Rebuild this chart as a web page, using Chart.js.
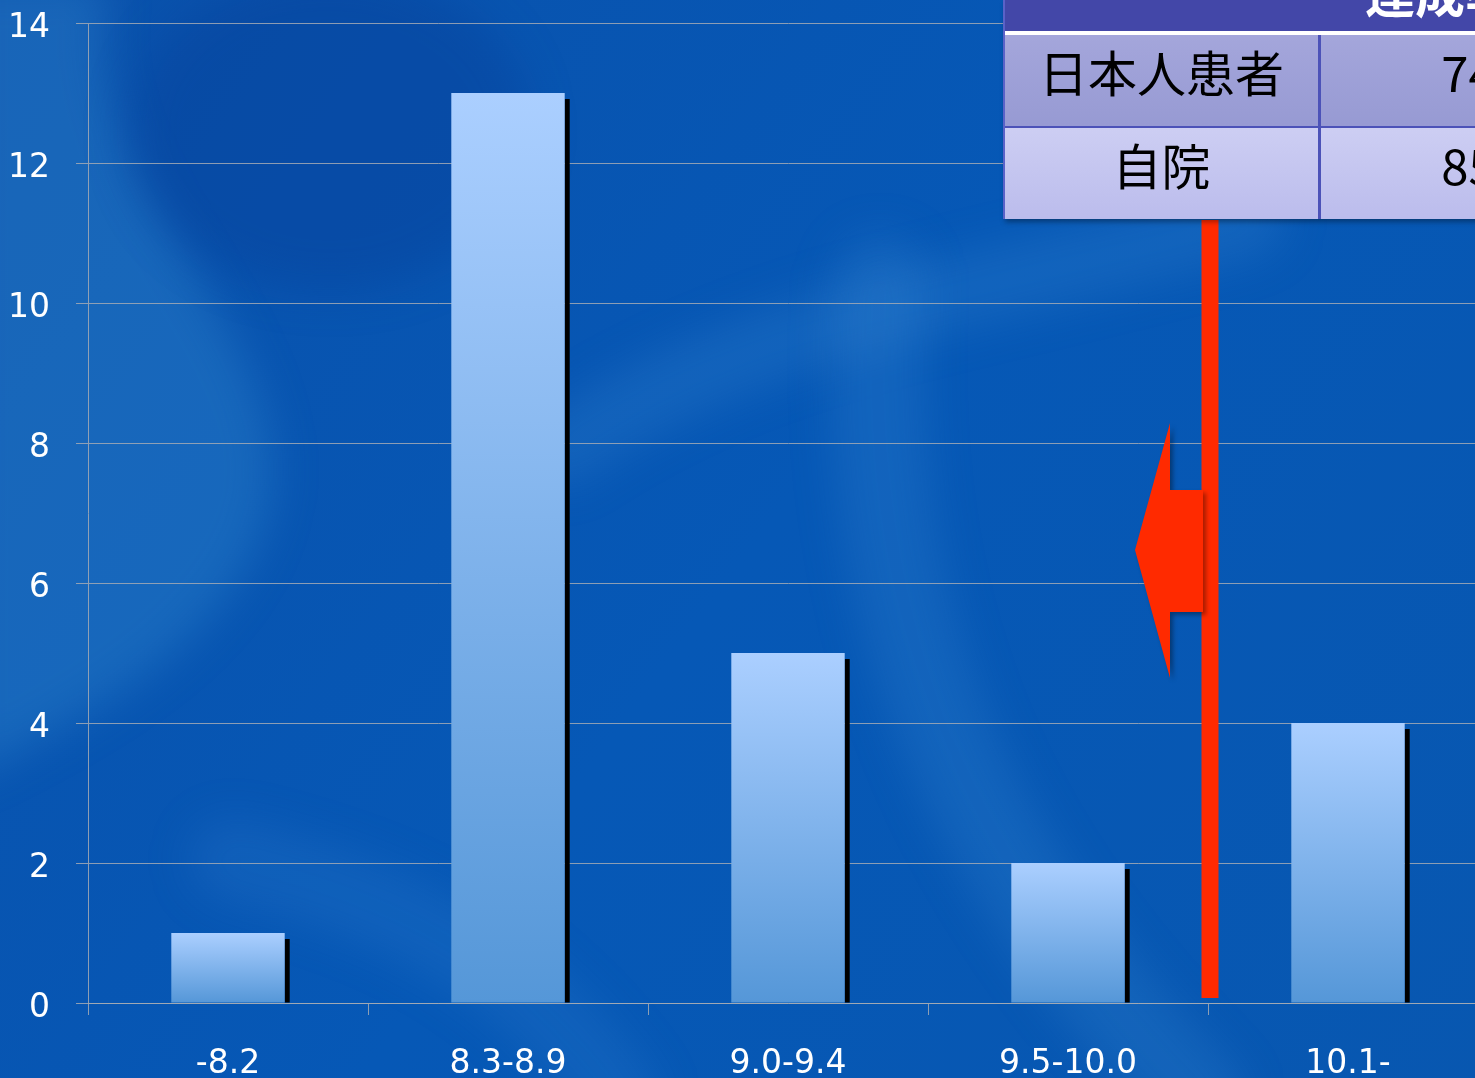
<!DOCTYPE html>
<html>
<head>
<meta charset="utf-8">
<script src="https://cdn.jsdelivr.net/npm/chart.js@4.4.1/dist/chart.umd.min.js"></script>
<style>
html, body { margin: 0; padding: 0; width: 1475px; height: 1078px; overflow: hidden; background: #0757b4; }
#wrap { position: relative; width: 1475px; height: 1078px; overflow: hidden; }
#chart { position: absolute; left: 0; top: 0; }
.tbl { position: absolute; left: 1003px; top: 0; width: 700px; font-family: "Noto Sans CJK JP", sans-serif;
       border-left: 2px solid #5a62c8; box-shadow: 2px 3px 5px rgba(0,0,0,0.35); }
.head { position: relative; height: 31px; background: #4347a8; border-bottom: 4px solid #fff; overflow: hidden; }
.head span { position: absolute; left: 360px; top: -34px; font-size: 50px; line-height: 50px; font-weight: 700; color: #fff; white-space: nowrap; }
.row { display: flex; height: 91px; }
.row.r1 { background: linear-gradient(#a4a6db, #979ad3); border-bottom: 2px solid #4c52b8; }
.row.r2 { height: 91px; background: linear-gradient(#cdcef3, #bbbcec); }
.cell { display: flex; align-items: center; justify-content: center; font-size: 49px; line-height: 1; color: #000; box-sizing: border-box; padding-bottom: 20px; }
.c1 { width: 316px; border-right: 3px solid #4c52b8; }
.c2 { width: 340px; }
</style>
</head>
<body>
<div id="wrap">
  <canvas id="chart" width="1500" height="1110"></canvas>
  <div class="tbl">
    <div class="head"><span>達成率</span></div>
    <div class="row r1"><div class="cell c1">日本人患者</div><div class="cell c2">74%</div></div>
    <div class="row r2"><div class="cell c1">自院</div><div class="cell c2">85%</div></div>
  </div>
</div>
<script>
// HbA1c ranges and patient counts
const categories = ['-8.2', '8.3-8.9', '9.0-9.4', '9.5-10.0', '10.1-'];
const patients = [1, 13, 5, 2, 4];
const yTicks = [0, 2, 4, 6, 8, 10, 12, 14];

const gridGray = 'rgba(165,170,180,0.85)';
const tickFont = { family: 'DejaVu Sans', size: 33 };

// blue backdrop with soft swirls
const backdrop = {
    id: 'backdrop',
    beforeDraw(chart) {
        const { ctx, width, height } = chart;
        ctx.save();
        const g = ctx.createLinearGradient(0, 0, width, height);
        g.addColorStop(0, '#0a51ab');
        g.addColorStop(0.5, '#0658b6');
        g.addColorStop(1, '#0857b0');
        ctx.fillStyle = g;
        ctx.fillRect(0, 0, width, height);

        ctx.filter = 'blur(22px)';
        ctx.lineCap = 'round';
        // left crescent
        ctx.fillStyle = 'rgba(60,150,215,0.3)';
        ctx.beginPath();
        ctx.moveTo(-40, -20);
        ctx.lineTo(110, -20);
        ctx.bezierCurveTo(60, 180, 300, 330, 270, 500);
        ctx.bezierCurveTo(240, 640, 80, 720, -40, 780);
        ctx.closePath();
        ctx.fill();
        // darker pocket inside the crescent
        ctx.fillStyle = 'rgba(5,60,150,0.35)';
        ctx.beginPath();
        ctx.ellipse(330, 130, 200, 160, 0, 0, Math.PI * 2);
        ctx.fill();
        // sweeping band across the middle
        ctx.strokeStyle = 'rgba(70,150,220,0.2)';
        ctx.lineWidth = 70;
        ctx.beginPath();
        ctx.moveTo(560, 450);
        ctx.bezierCurveTo(750, 320, 950, 300, 1250, 220);
        ctx.stroke();
        // large arc down the right side
        ctx.lineWidth = 90;
        ctx.strokeStyle = 'rgba(70,150,220,0.2)';
        ctx.beginPath();
        ctx.moveTo(880, 280);
        ctx.bezierCurveTo(860, 600, 950, 850, 1200, 1100);
        ctx.stroke();
        // lower left diagonal band
        ctx.lineWidth = 80;
        ctx.strokeStyle = 'rgba(60,140,215,0.18)';
        ctx.beginPath();
        ctx.moveTo(230, 860);
        ctx.bezierCurveTo(400, 900, 520, 960, 620, 1100);
        ctx.stroke();
        ctx.restore();
    }
};

// black drop shadow on the right of each bar
const barShadow = {
    id: 'barShadow',
    beforeDatasetsDraw(chart) {
        const ctx = chart.ctx;
        ctx.save();
        ctx.fillStyle = '#000';
        chart.getDatasetMeta(0).data.forEach(bar => {
            const { x, y, base, width } = bar.getProps(['x', 'y', 'base', 'width'], true);
            ctx.fillRect(x + width / 2, y + 6, 5, base - y - 6);
        });
        ctx.restore();
    }
};

// red cut-off line with arrow pointing left
const cutoffMarker = {
    id: 'cutoffMarker',
    afterDatasetsDraw(chart) {
        const { ctx, scales } = chart;
        const xb = scales.x.getPixelForValue(3.5) + 2;
        const top = 220, bottom = scales.y.getPixelForValue(0) - 5;
        ctx.save();
        ctx.fillStyle = '#ff2a00';
        ctx.fillRect(xb - 8.5, top, 17, bottom - top);

        const tipY = 550;
        ctx.shadowColor = 'rgba(0,0,0,0.35)';
        ctx.shadowOffsetX = 3;
        ctx.shadowOffsetY = 3;
        ctx.shadowBlur = 4;
        ctx.beginPath();
        ctx.moveTo(xb - 75, tipY);
        ctx.lineTo(xb - 40, 423);
        ctx.lineTo(xb - 40, 490);
        ctx.lineTo(xb - 7, 490);
        ctx.lineTo(xb - 7, 612);
        ctx.lineTo(xb - 40, 612);
        ctx.lineTo(xb - 40, 678);
        ctx.closePath();
        ctx.fill();
        ctx.restore();
    }
};

function barFill(c) {
    const chart = c.chart;
    if (!chart.chartArea) return '#86b4ee';
    const y = chart.scales.y;
    const top = y.getPixelForValue(c.raw);
    const base = y.getPixelForValue(0);
    const g = chart.ctx.createLinearGradient(0, top, 0, base);
    g.addColorStop(0, '#abcfff');
    g.addColorStop(1, '#5597d8');
    return g;
}

new Chart(document.getElementById('chart'), {
    type: 'bar',
    data: {
        labels: categories,
        datasets: [{
            data: patients,
            backgroundColor: barFill,
            borderWidth: 0,
            categoryPercentage: 1,
            barPercentage: 0.405
        }]
    },
    options: {
        responsive: false,
        animation: false,
        devicePixelRatio: 1,
        layout: { padding: { top: 23, right: 12, left: 0, bottom: 0 } },
        plugins: { legend: { display: false }, tooltip: { enabled: false } },
        scales: {
            x: {
                grid: { drawOnChartArea: false, drawTicks: true, tickLength: 12, color: gridGray, offset: true },
                border: { display: true, color: gridGray, width: 1 },
                ticks: { color: '#fff', font: tickFont, padding: 30, maxRotation: 0 },
                afterFit: s => { s.height = 107; s.paddingLeft = 0; s.paddingRight = 0; }
            },
            y: {
                min: 0,
                max: 14,
                afterBuildTicks: s => { s.ticks = yTicks.map(v => ({ value: v })); },
                grid: { color: gridGray, lineWidth: 1, tickLength: 12 },
                border: { display: true, color: gridGray, width: 1 },
                ticks: { color: '#fff', font: tickFont, padding: 26, labelOffset: 5 },
                afterFit: s => { s.width = 88; s.paddingTop = 0; s.paddingBottom = 0; }
            }
        }
    },
    plugins: [backdrop, barShadow, cutoffMarker]
});
</script>
</body>
</html>
